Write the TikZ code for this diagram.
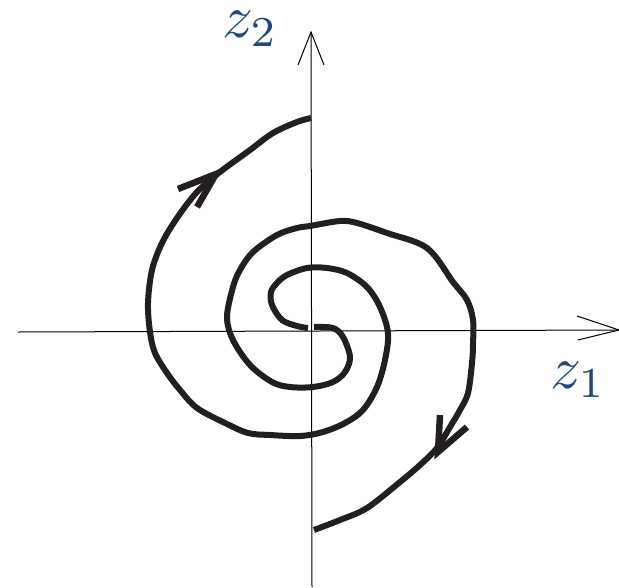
\documentclass[tikz,border=0pt]{standalone}
\usetikzlibrary{calc}
\definecolor{labelblue}{RGB}{31,73,125}
\definecolor{curveblack}{RGB}{35,31,32}
\tikzset{
  axisline/.style={black, line width=1pt},
  spiral/.style={curveblack, line width=6pt, line join=round, smooth, tension=0.55},
  barb/.style={curveblack, line width=6.5pt, line join=miter, line cap=butt},
  axlabel/.style={labelblue, inner sep=0pt, anchor=base west, scale=6.1}
}
\begin{document}
\begin{tikzpicture}[x=1pt,y=-1pt]
\useasboundingbox (0,0) rectangle (619,587);
% axes
\coordinate (xl) at (18,332);
\coordinate (xr) at (619,330);
\coordinate (yb) at (312,587);
\coordinate (yt) at (311,32);
\draw[axisline] (xl) -- (xr);
\draw[axisline] (577,316) -- (xr) -- (578,340);
\draw[axisline] (yb) -- (yt);
\draw[axisline] (298,65) -- (yt) -- (324,65);
\node[axlabel] (z2) at (221,37) {$z_2$};
\node[axlabel] (z1) at (549,388) {$z_1$};
% arm A
\draw[spiral] plot coordinates {
 (308,328) (297,326) (282,320) (272,305) (271,292) (277,283) (287,275)
 (307,268) (327,268) (347,273) (367,287) (380,307) (388,333) (385,360)
 (377,387) (363,410) (345,423) (323,432) (300,436) (270,435) (248,433)
 (225,423) (197,408) (180,390) (167,373) (155,353) (150,332) (148,303)
 (152,270) (162,243) (177,218) (197,192) (220,172) (250,150) (273,133)
 (297,122) (311,118)};
% arm B
\draw[spiral] plot coordinates {
 (314,327) (333,328) (343,337) (350,357) (345,372) (333,382) (313,387)
 (290,387) (272,382) (250,365) (233,340) (227,317) (233,287) (240,270)
 (253,252) (277,235) (297,228) (310,226) (340,221) (357,223) (387,233)
 (427,248) (453,282) (467,300) (473,320) (473,345) (472,363) (468,393)
 (460,410) (450,427) (437,448) (420,465) (400,482) (367,508) (340,520)
 (314,530)};
% arrowheads
\draw[barb] (178,189) -- (216,174) -- (197,207);
\draw[barb] (440,415) -- (438,452) -- (467,427);
\end{tikzpicture}
\end{document}
